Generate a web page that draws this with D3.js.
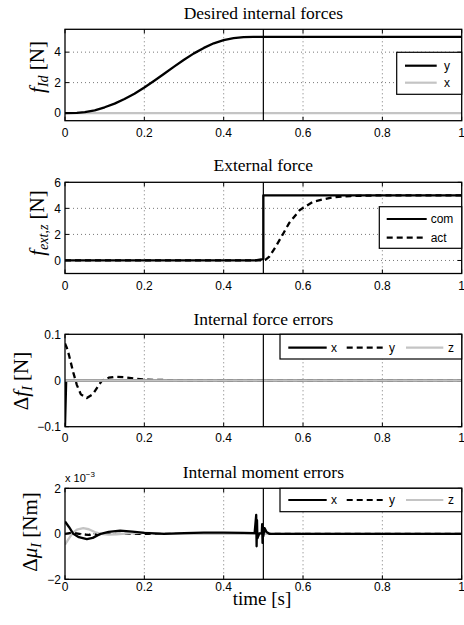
<!DOCTYPE html>
<html><head><meta charset="utf-8">
<script src="https://cdn.jsdelivr.net/npm/d3@7"></script>
<style>
html,body{margin:0;padding:0;background:#fff;}
svg{display:block;}
</style></head>
<body><svg id="c" width="464" height="625"></svg>
<script>
// ---------- DATA ----------
const xTicks = [0, 0.2, 0.4, 0.6, 0.8, 1];
const xTickLabels = ["0", "0.2", "0.4", "0.6", "0.8", "1"];

// Panel 1: Desired internal forces
const p1Ticks = [0, 2, 4];
const p1T_y = [0, 0.03, 0.05, 0.075, 0.1, 0.125, 0.15, 0.175, 0.2, 0.225, 0.25, 0.275, 0.3, 0.325, 0.35, 0.375, 0.4, 0.425, 0.45, 0.475, 0.5, 1];
const p1V_y = [0, 0.01, 0.06, 0.18, 0.38, 0.62, 0.92, 1.27, 1.68, 2.12, 2.58, 3.05, 3.5, 3.92, 4.28, 4.58, 4.79, 4.92, 4.98, 5.0, 5.0, 5.0];
const p1T_x = [0, 1];
const p1V_x = [0, 0];

// Panel 2: External force
const p2Ticks = [0, 2, 4, 6];
const p2T_com = [0, 0.48, 0.498, 0.5, 0.5, 1];
const p2V_com = [0, 0, 0.1, 0.1, 5, 5];
const p2T_act = [0, 0.5, 0.505, 0.515, 0.53, 0.546, 0.565, 0.592, 0.626, 0.672, 0.72, 0.8, 1];
const p2V_act = [0, 0, 0.05, 0.3, 1.0, 1.84, 2.87, 3.88, 4.52, 4.83, 4.95, 5.0, 5.0];

// Panel 3: Internal force errors
const p3Ticks = [-0.1, 0, 0.1];
const p3TickLabels = ["\u22120.1", "0", "0.1"];
const p3T_x = [0, 0.003, 0.01, 1];
const p3V_x = [-0.1, 0, 0, 0];
const p3T_y = [0, 0.005, 0.01, 0.021, 0.03, 0.04, 0.055, 0.07, 0.093, 0.11, 0.126, 0.15, 0.175, 0.2, 0.25, 0.3, 0.4, 0.5, 1];
const p3V_y = [0.08, 0.07, 0.055, 0.017, -0.01, -0.03, -0.038, -0.03, 0, 0.006, 0.008, 0.007, 0.004, 0.002, 0.001, 0, 0, 0, 0];
const p3T_z = [0, 1];
const p3V_z = [0, 0];

// Panel 4: Internal moment errors (x 10^-3)
const p4Ticks = [-2, 0, 2];
const p4TickLabels = ["\u22122", "0", "2"];
const p4T_x = [0, 0.01, 0.021, 0.035, 0.055, 0.07, 0.09, 0.11, 0.139, 0.17, 0.2, 0.25, 0.3, 0.35, 0.4, 0.45, 0.478, 0.482, 0.483, 0.484, 0.485, 0.49, 0.496, 0.497, 0.498, 0.499, 0.5, 0.503, 0.508, 0.515, 0.6, 1];
const p4V_x = [0.54, 0.3, 0, -0.15, -0.23, -0.18, 0, 0.08, 0.14, 0.1, 0.04, 0, 0.03, 0.05, 0.05, 0.04, 0.03, 0.83, -0.55, 0.6, -0.2, 0.02, 0.02, 0.42, -0.4, 0.3, -0.1, 0.25, 0.08, 0, 0, 0];
const p4T_y = [0, 0.02, 0.04, 0.06, 0.08, 0.1, 0.2, 0.5, 0.52, 1];
const p4V_y = [0, 0.05, -0.02, -0.05, -0.02, 0, 0, 0, 0, 0];
const p4T_z = [0, 0.01, 0.02, 0.03, 0.046, 0.06, 0.075, 0.09, 0.11, 0.13, 0.16, 0.2, 0.25, 0.3, 1];
const p4V_z = [-0.48, -0.2, 0.05, 0.18, 0.25, 0.2, 0.08, 0, -0.04, -0.02, 0.02, 0.05, 0, 0, 0];

// ---------- DRAW ----------
const svg = d3.select("#c");
const L = 65, R = 461.7;
const BLACK = "#000", GRAY = "#c4c4c4";
const sans = "'Liberation Sans', Arial, sans-serif";
const serif = "'Liberation Serif', 'Times New Roman', serif";
const zip = (t, v) => t.map((d, i) => [d, v[i]]);

const styles = {
  solid: {stroke: BLACK, dash: null},
  dashed: {stroke: BLACK, dash: "6,4"},
  gray: {stroke: GRAY, dash: null}
};

const panels = [
  {title: "Desired internal forces", top: 29.3, bottom: 120.7, tOff: 10.5, ylim: [-0.5, 5.5], yt: p1Ticks, ytl: p1Ticks.map(String),
   series: [{t: p1T_x, v: p1V_x, s: "gray"}, {t: p1T_y, v: p1V_y, s: "solid"}],
   legend: {x0: 396.7, x1: 461.7, y0: 52.3, y1: 94.3, items: [{label: "y", s: "solid", lx: 405, lx1: 436.7, tx: 444, y: 65.7}, {label: "x", s: "gray", lx: 405, lx1: 436.7, tx: 444, y: 82.7}]},
   ylab: {x: 44, y: 67, parts: [["f", "i"], ["Id", "is"], ["  [N]", "r"]]}, xlabBase: 137},
  {title: "External force", top: 182.3, bottom: 273.5, tOff: 11, ylim: [-1, 6], yt: p2Ticks, ytl: p2Ticks.map(String),
   series: [{t: p2T_act, v: p2V_act, s: "dashed"}, {t: p2T_com, v: p2V_com, s: "solid"}],
   legend: {x0: 379.3, x1: 461.7, y0: 206.7, y1: 248.3, items: [{label: "com", s: "solid", lx: 386.7, lx1: 426.7, tx: 430.7, y: 219}, {label: "act", s: "dashed", lx: 386.7, lx1: 426.7, tx: 430.7, y: 237.7}]},
   ylab: {x: 44, y: 223, parts: [["f", "i"], ["ext,z", "is"], ["  [N]", "r"]]}, xlabBase: 290},
  {title: "Internal force errors", top: 334.3, bottom: 426.7, tOff: 9.5, ylim: [-0.1, 0.1], yt: p3Ticks, ytl: p3TickLabels,
   series: [{t: p3T_y, v: p3V_y, s: "dashed"}, {t: p3T_x, v: p3V_x, s: "solid"}, {t: p3T_z, v: p3V_z, s: "gray"}],
   legend: {x0: 280, x1: 461.7, y0: 334.3, y1: 359, items: [{label: "x", s: "solid", lx: 288.3, lx1: 326.7, tx: 331, y: 347.7}, {label: "y", s: "dashed", lx: 346.7, lx1: 386.7, tx: 389, y: 347.7}, {label: "z", s: "gray", lx: 406, lx1: 443.3, tx: 448, y: 347.7}]},
   ylab: {x: 28, y: 381, parts: [["\u0394", "r"], ["f", "i"], ["I", "is"], ["  [N]", "r"]]}, xlabBase: 441.5},
  {title: "Internal moment errors", top: 488.3, bottom: 579.3, tOff: 10, ylim: [-2, 2], yt: p4Ticks, ytl: p4TickLabels,
   series: [{t: p4T_y, v: p4V_y, s: "dashed"}, {t: p4T_z, v: p4V_z, s: "gray"}, {t: p4T_x, v: p4V_x, s: "solid"}],
   legend: {x0: 280, x1: 461.7, y0: 488.3, y1: 511.7, items: [{label: "x", s: "solid", lx: 288.3, lx1: 326.7, tx: 331, y: 500}, {label: "y", s: "dashed", lx: 346.7, lx1: 386.7, tx: 389, y: 500}, {label: "z", s: "gray", lx: 406, lx1: 443.3, tx: 448, y: 500}]},
   ylab: {x: 37, y: 532, parts: [["\u0394", "r"], ["\u03BC", "i"], ["I", "is"], ["  [Nm]", "r"]]}, xlabBase: 591, exp: true}
];

panels.forEach((p, pi) => {
  const x = d3.scaleLinear().domain([0, 1]).range([L, R]);
  const y = d3.scaleLinear().domain(p.ylim).range([p.bottom, p.top]);
  const g = svg.append("g");
  const cid = "clip" + pi;
  g.append("clipPath").attr("id", cid).append("rect")
    .attr("x", L).attr("y", p.top).attr("width", R - L).attr("height", p.bottom - p.top);

  // grid
  xTicks.slice(1, -1).forEach(t => {
    g.append("line").attr("x1", x(t)).attr("x2", x(t)).attr("y1", p.top).attr("y2", p.bottom)
      .attr("stroke", "#555").attr("stroke-width", 0.8).attr("stroke-dasharray", "1,3");
  });
  p.yt.forEach(t => {
    if (t === p.ylim[0] || t === p.ylim[1]) return;
    g.append("line").attr("x1", L).attr("x2", R).attr("y1", y(t)).attr("y2", y(t))
      .attr("stroke", "#555").attr("stroke-width", 0.8).attr("stroke-dasharray", "1,3");
  });

  // tick marks (inside)
  xTicks.forEach(t => {
    g.append("line").attr("x1", x(t)).attr("x2", x(t)).attr("y1", p.bottom).attr("y2", p.bottom - 4).attr("stroke", BLACK);
    g.append("line").attr("x1", x(t)).attr("x2", x(t)).attr("y1", p.top).attr("y2", p.top + 4).attr("stroke", BLACK);
  });
  p.yt.forEach(t => {
    g.append("line").attr("x1", L).attr("x2", L + 4).attr("y1", y(t)).attr("y2", y(t)).attr("stroke", BLACK);
    g.append("line").attr("x1", R).attr("x2", R - 4).attr("y1", y(t)).attr("y2", y(t)).attr("stroke", BLACK);
  });

  // data
  const line = d3.line().x(d => x(d[0])).y(d => y(d[1]));
  const dg = g.append("g").attr("clip-path", `url(#${cid})`);
  p.series.forEach(s => {
    const st = styles[s.s];
    dg.append("path").attr("d", line(zip(s.t, s.v))).attr("fill", "none")
      .attr("stroke", st.stroke).attr("stroke-width", 2.3)
      .attr("stroke-dasharray", st.dash).attr("stroke-linejoin", "round");
  });

  // vertical line at t=0.5
  g.append("line").attr("x1", x(0.5)).attr("x2", x(0.5)).attr("y1", p.top).attr("y2", p.bottom)
    .attr("stroke", BLACK).attr("stroke-width", 1.2);

  // box
  g.append("rect").attr("x", L).attr("y", p.top).attr("width", R - L).attr("height", p.bottom - p.top)
    .attr("fill", "none").attr("stroke", BLACK).attr("stroke-width", 1.3);

  // tick labels
  xTicks.forEach((t, i) => {
    g.append("text").attr("x", x(t)).attr("y", p.xlabBase).attr("text-anchor", "middle")
      .attr("font-family", sans).attr("font-size", 12).text(xTickLabels[i]);
  });
  p.yt.forEach((t, i) => {
    g.append("text").attr("x", L - 4).attr("y", y(t)).attr("dy", "0.36em").attr("text-anchor", "end")
      .attr("font-family", sans).attr("font-size", 12).text(p.ytl[i]);
  });

  // title
  g.append("text").attr("x", (L + R) / 2).attr("y", p.top - p.tOff).attr("text-anchor", "middle")
    .attr("font-family", serif).attr("font-size", 17.5).text(p.title);

  // y label
  const yl = g.append("text").attr("transform", `translate(${p.ylab.x},${p.ylab.y}) rotate(-90)`)
    .attr("text-anchor", "middle").attr("font-family", serif).attr("font-size", 21);
  p.ylab.parts.forEach(pt => {
    const ts = yl.append("tspan").text(pt[0]);
    if (pt[1] === "i") ts.attr("font-style", "italic");
    if (pt[1] === "is") ts.attr("font-style", "italic").attr("font-size", 14).attr("baseline-shift", "-4");
  });

  // exponent label
  if (p.exp) {
    const et = g.append("text").attr("x", L).attr("y", p.top - 6).attr("font-family", sans).attr("font-size", 11);
    et.append("tspan").text("x 10");
    et.append("tspan").attr("font-size", 8).attr("baseline-shift", "5").text("\u22123");
  }

  // legend
  const lg = p.legend;
  g.append("rect").attr("x", lg.x0).attr("y", lg.y0).attr("width", lg.x1 - lg.x0).attr("height", lg.y1 - lg.y0)
    .attr("fill", "#fff").attr("stroke", BLACK).attr("stroke-width", 1.2);
  lg.items.forEach(it => {
    const st = styles[it.s];
    g.append("line").attr("x1", it.lx).attr("x2", it.lx1).attr("y1", it.y).attr("y2", it.y)
      .attr("stroke", st.stroke).attr("stroke-width", 2.2).attr("stroke-dasharray", st.dash);
    g.append("text").attr("x", it.tx).attr("y", it.y).attr("dy", "0.36em")
      .attr("font-family", sans).attr("font-size", 12).text(it.label);
  });
});

// x-axis label
svg.append("text").attr("x", 262).attr("y", 605).attr("text-anchor", "middle")
  .attr("font-family", serif).attr("font-size", 19).text("time [s]");
</script>
</body></html>
